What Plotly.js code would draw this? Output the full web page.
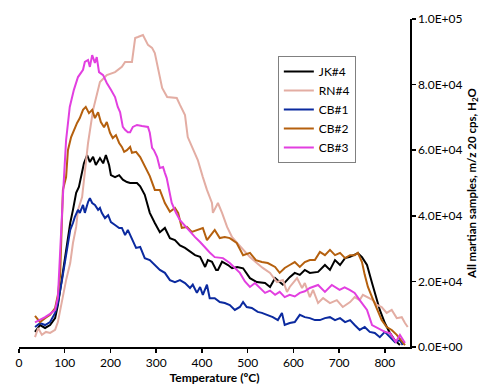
<!DOCTYPE html>
<html>
<head>
<meta charset="utf-8">
<script src="https://cdn.plot.ly/plotly-3.0.1.min.js"></script>
<style>html,body{margin:0;padding:0;background:#fff;}#chart{width:495px;height:385px;}</style>
</head>
<body>
<div id="chart"></div>
<script>
const seriesNames = ["JK#4", "RN#4", "CB#1", "CB#2", "CB#3"];

const jk4_x = [35,46,57,68,79,85,94,101,105,112,118,125,131,136,142,149,155,162,168,177,184,190,197,201,210,219,227,236,243,258,265,275,286,297,308,319,330,341,352,363,374,385,396,407,413,422,431,435,444,457,466,477,490,505,520,538,549,560,577,592,603,614,625,636,654,669,680,691,702,713,724,741,750,761,772,783,789,800,811,822,833];
const jk4_y = [4600,6700,5800,6700,8800,12800,21000,27500,32600,37800,41800,47000,48800,52000,56000,58500,56400,58000,55500,57600,56000,58500,55500,52400,51800,52400,51000,50300,50000,50000,49000,46400,40900,37800,35000,36300,33200,32600,31000,30200,29000,28000,27500,24400,26500,26000,23500,23500,26000,25000,24000,24400,24000,21000,19800,19500,18300,21000,19000,21300,22600,22000,23500,22600,22900,25000,23500,26500,25000,27100,27500,28600,27400,25000,19500,14300,11300,7300,4300,2000,600];

const rn4_x = [35,42,50,59,68,79,85,94,103,112,118,125,129,138,151,162,177,192,210,225,232,247,254,260,271,282,291,297,304,313,324,337,345,352,363,369,380,391,402,411,422,424,435,444,455,466,477,490,505,520,533,549,564,577,586,592,608,619,625,636,643,654,665,680,695,708,724,734,745,752,763,774,783,793,804,815,826,837,844,850];
const rn4_y = [3000,5800,3700,4600,4300,5200,7600,14300,20400,25600,31700,36600,41800,45700,62200,72300,80800,82900,83800,85400,86900,86900,94200,94500,95100,92100,91200,89600,84500,79000,76200,75900,75900,73800,70700,64000,60700,57000,51800,47900,43900,40900,43900,40900,36600,33500,31700,29600,27400,25600,24100,22600,19800,20400,16800,18300,21000,18000,19500,15200,17400,13400,14900,13400,14300,12200,13700,15200,14300,15900,15200,14300,12800,12200,10400,11300,8800,9100,7300,6100];

const cb1_x = [35,46,57,68,79,85,94,103,107,112,118,122,129,133,140,144,151,155,160,166,173,177,181,188,195,201,210,219,225,232,238,245,249,256,265,275,286,297,308,319,330,341,352,363,374,380,389,396,402,411,417,428,439,450,461,472,483,490,498,509,522,531,544,555,566,575,581,592,603,614,625,636,647,658,669,680,691,702,713,724,734,745,756,767,778,789,800,811,822,833,839];
const cb1_y = [6100,7300,6700,7600,10400,13400,20400,28700,32600,35700,37800,39600,41800,40900,43300,40900,44200,45400,43900,43300,41800,42400,40900,39300,40200,38100,37200,36300,36300,34100,35700,33500,32000,30200,30500,27100,26500,25000,23500,22600,20400,19800,20400,19500,18000,19000,16500,18300,15900,19000,14900,14900,13700,13400,12800,11300,12200,13700,12200,11900,10700,10400,9800,9100,8200,10400,6700,7300,7600,9800,9100,8800,8200,8200,8800,9100,8200,8800,7600,8200,6700,5200,6100,4600,4300,3000,4600,3000,1500,2100,600];

const cb2_x = [35,46,57,68,79,85,90,96,103,107,114,120,127,133,140,146,153,160,166,173,179,186,192,199,205,212,219,225,230,236,243,247,256,265,275,286,297,308,319,330,341,348,356,367,378,389,402,411,422,428,439,450,461,476,490,505,518,531,544,560,570,581,592,603,614,625,636,647,658,669,680,691,702,713,724,734,741,750,756,763,772,783,793,804,815,826,840,844];
const cb2_y = [9500,7600,8800,9800,11900,15900,22000,47900,51800,60000,64000,66200,68300,69800,72300,73200,71300,72300,69800,71600,68600,67000,68600,65300,63700,64600,62200,61000,59500,60000,61000,59200,59500,57900,54900,52100,47900,47900,43900,41200,42400,40900,36300,36600,35100,35700,36300,32600,34800,35700,33200,33500,33200,31700,28000,28700,26500,25900,25600,24400,22600,24100,25000,25900,24400,25900,26500,26500,29000,28000,29600,28000,28700,27100,28000,28000,28700,25900,22000,18300,15200,11300,8200,6100,5200,3700,1200,600];

const cb3_x = [35,46,57,68,79,85,90,96,103,111,120,129,140,144,151,155,160,166,170,175,184,192,201,210,216,221,227,232,238,243,249,258,269,282,286,291,295,302,308,315,319,323,334,343,352,365,375,385,396,407,417,428,446,461,477,483,494,505,516,527,538,549,560,570,581,592,603,614,625,636,654,669,684,701,712,723,734,745,761,772,785,800,811,824,833,844];
const cb3_y = [7500,8200,9100,10100,11300,15000,30000,46000,63100,73200,78400,82300,84500,86900,87500,85400,89000,86600,88400,83800,82900,80500,78400,76200,73200,71600,67100,66200,65500,65500,67100,67700,67400,67100,65300,60700,60000,57900,54600,54900,53100,51500,43900,41000,38700,36600,35300,33500,32000,30200,28800,27400,27100,25600,23500,22600,20000,18300,19500,18000,16500,17200,15900,16800,15200,15900,15400,16500,17000,18000,18900,16800,18900,17400,18200,17400,16500,14300,11300,6700,5800,4600,4300,1500,3700,1200];

const yTickVals = [0, 20000, 40000, 60000, 80000, 100000];
const yTickText = ["0.0E+00", "2.0E+04", "4.0E+04", "6.0E+04", "8.0E+04", "1.0E+05"];
const xTickVals = [0, 100, 200, 300, 400, 500, 600, 700, 800];

const colors = ["#000000", "#E3ADA3", "#0B2A9F", "#B5600E", "#E23FE0"];
const xs = [jk4_x, rn4_x, cb1_x, cb2_x, cb3_x];
const ys = [jk4_y, rn4_y, cb1_y, cb2_y, cb3_y];

const traces = seriesNames.map((n, i) => ({
  type: "scatter", mode: "lines", name: n,
  x: xs[i], y: ys[i],
  line: {color: colors[i], width: 2}
}));

const font = "Lato, 'Open Sans', sans-serif";
const layout = {
  width: 495, height: 385,
  margin: {l: 19, r: 85, t: 19, b: 38},
  paper_bgcolor: "#fff", plot_bgcolor: "#fff",
  font: {family: font, size: 12, color: "#000"},
  showlegend: true,
  legend: {
    x: 0.662, y: 0.887, xanchor: "left", yanchor: "top",
    bordercolor: "#808080", borderwidth: 1, bgcolor: "#fff",
    font: {family: font, size: 12, color: "#000"},
    tracegroupgap: 0
  },
  xaxis: {
    range: [0, 855], tickvals: xTickVals, showgrid: false, zeroline: false,
    showline: true, linecolor: "#000", linewidth: 1.5,
    ticks: "outside", ticklen: 4, tickwidth: 1.5, tickcolor: "#000",
    tickfont: {family: font, size: 12},
    title: {text: "Temperature (ºC)", font: {family: font, size: 12, weight: "bold"}, standoff: 7},
    automargin: false
  },
  yaxis: {
    side: "right", range: [0, 100000], tickvals: yTickVals, ticktext: yTickText,
    showgrid: false, zeroline: false,
    showline: true, linecolor: "#000", linewidth: 1.5,
    ticks: "outside", ticklen: 4, tickwidth: 1.5, tickcolor: "#000",
    tickfont: {family: font, size: 12},
    title: {text: "All martian samples, m/z 20 cps, H<sub>2</sub>O", font: {family: font, size: 11.5, weight: "bold"}, standoff: 6},
    automargin: false
  }
};

Plotly.newPlot("chart", traces, layout, {displayModeBar: false, staticPlot: true});
</script>
</body>
</html>
